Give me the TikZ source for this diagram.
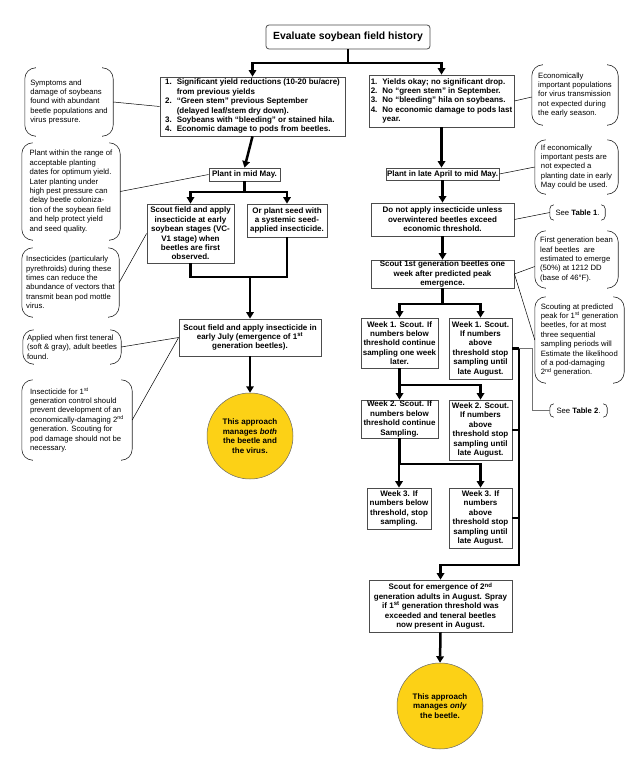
\documentclass[tikz,border=0pt]{standalone}
\usepackage{fontspec}
\setmainfont{Liberation Sans}
\usetikzlibrary{arrows.meta,calc}
\definecolor{gold}{RGB}{252,209,22}
\tikzset{
 box/.style={draw=black!70, line width=0.8pt, fill=white, font=\bfseries\fontsize{8}{9.4}\selectfont, align=center, inner xsep=1pt, inner ysep=0.5pt},
 note/.style={font=\fontsize{7.7}{9.4}\selectfont, align=left, inner xsep=4pt, inner ysep=0pt},
 brk/.style={line width=0.6pt, black!85, rounded corners=11pt},
 brks/.style={line width=0.6pt, black!85, rounded corners=4pt},
 conn/.style={line width=0.5pt, black},
 bus/.style={line width=2.5pt, black},
 arr/.style={bus, -{Triangle[width=7.5pt,length=6.5pt]}},
 goal/.style={circle, draw=black!60, line width=0.5pt, fill=gold, minimum size=86pt, align=center, font=\bfseries\fontsize{8}{9.6}\selectfont, inner sep=0pt},
}
\begin{document}
\begin{tikzpicture}[x=1pt,y=-1pt]
\useasboundingbox (0,0) rectangle (640,760);

% ---------- main boxes ----------
\node[box, rounded corners=3pt, font=\bfseries\fontsize{10.4}{12}\selectfont, minimum width=164, minimum height=24] (title) at (348,37) {Evaluate soybean field history};

\node[box, minimum width=185, minimum height=59] (L1) at (252.5,106.5) {\begin{tabular}{@{}l@{\hspace{5pt}}l@{}}
1. & Significant yield reductions (10-20 bu/acre)\\
   & from previous yields\\
2. & “Green stem” previous September\\
   & (delayed leaf/stem dry down).\\
3. & Soybeans with “bleeding” or stained hila.\\
4. & Economic damage to pods from beetles.
\end{tabular}};

\node[box, minimum width=145, minimum height=52] (R1) at (441.5,101) {\begin{tabular}{@{}l@{\hspace{5pt}}l@{}}
1. & Yields okay; no significant drop.\\
2. & No “green stem” in September.\\
3. & No “bleeding” hila on soybeans.\\
4. & No economic damage to pods last\\
   & year.
\end{tabular}};

\node[box, minimum width=71, minimum height=13] (pmay) at (244.5,174.5) {Plant in mid May.};
\node[box, minimum width=87, minimum height=59] (scoutE) at (190.5,233.5) {Scout field and apply\\insecticide at early\\soybean stages (VC-\\V1 stage) when\\beetles are first\\observed.};
\node[box, minimum width=80, minimum height=33] (orseed) at (287,220.5) {Or plant seed with\\a systemic seed-\\applied insecticide.};
\node[box, minimum width=142, minimum height=37] (july) at (250,337.5) {Scout field and apply insecticide in\\early July (emergence of 1\textsuperscript{st}\\generation beetles).};
\node[goal] (c1) at (250,436) {This approach\\manages \textit{both}\\the beetle and\\the virus.};

\node[box, minimum width=113, minimum height=12] (papril) at (442.5,174) {Plant in late April to mid May.};
\node[box, minimum width=143, minimum height=33] (donot) at (442.5,219.5) {Do not apply insecticide unless\\overwintered beetles exceed\\economic threshold.};
\node[box, minimum width=143, minimum height=28] (scout1) at (442.5,274) {Scout 1st generation beetles one\\week after predicted peak\\emergence.};
\node[box, minimum width=77, minimum height=50] (w1l) at (399.5,343) {Week 1. Scout. If\\numbers below\\threshold continue\\sampling one week\\later.};
\node[box, minimum width=63, minimum height=61] (w1r) at (480.5,348.5) {Week 1. Scout.\\If numbers\\above\\threshold stop\\sampling until\\late August.};
\node[box, minimum width=77, minimum height=38] (w2l) at (399.5,419) {Week 2. Scout. If\\numbers below\\threshold continue\\Sampling.};
\node[box, minimum width=63, minimum height=60] (w2r) at (480.5,430) {Week 2. Scout.\\If numbers\\above\\threshold stop\\sampling until\\late August.};
\node[box, minimum width=64, minimum height=41] (w3l) at (399,508.5) {Week 3. If\\numbers below\\threshold, stop\\sampling.};
\node[box, minimum width=63, minimum height=60] (w3r) at (480.5,518) {Week 3. If\\numbers\\above\\threshold stop\\sampling until\\late August.};
\node[box, minimum width=143, minimum height=52] (semerg) at (440.5,606) {Scout for emergence of 2\textsuperscript{nd}\\generation adults in August. Spray\\if 1\textsuperscript{st} generation threshold was\\exceeded and teneral beetles\\now present in August.};
\node[goal] (c2) at (440,706) {This approach\\manages \textit{only}\\the beetle.};

% ---------- notes ----------
\node[note, minimum width=88, minimum height=68] (nL1) at (69,102) {Symptoms and\\damage of soybeans\\found with abundant\\beetle populations and\\virus pressure.};
\node[note, minimum width=98, minimum height=97] (nL2) at (71,191.5) {Plant within the range of\\acceptable planting\\dates for optimum yield.\\Later planting under\\high pest pressure can\\delay beetle coloniza-\\tion of the soybean field\\and help protect yield\\and seed quality.};
\node[note, inner xsep=1pt, minimum width=97, minimum height=69] (nL3) at (70.5,282.5) {Insecticides (particularly\\pyrethroids) during these\\times can reduce the\\abundance of vectors that\\transmit bean pod mottle\\virus.};
\node[note, minimum width=98, minimum height=34] (nL4) at (72,347) {Applied when first teneral\\(soft \& gray), adult beetles\\found.};
\node[note, minimum width=110, minimum height=80] (nL5) at (77,420) {Insecticide for 1\textsuperscript{st}\\generation control should\\prevent development of an\\economically-damaging 2\textsuperscript{nd}\\generation. Scouting for\\pod damage should not be\\necessary.};
\node[note, minimum width=86, minimum height=60] (nR1) at (575,95) {Economically\\important populations\\for virus transmission\\not expected during\\the early season.};
\node[note, minimum width=83, minimum height=54] (nR2) at (576.5,167) {If economically\\important pests are\\not expected a\\planting date in early\\May could be used.};
\node[note, minimum width=83, minimum height=57] (nR3) at (576.5,259.5) {First generation bean\\leaf beetles\ \ are\\estimated to emerge\\(50\%) at 1212 DD\\(base of 46°F).};
\node[note, minimum width=89, minimum height=86] (nR4) at (579.5,340) {Scouting at predicted\\peak for 1\textsuperscript{st} generation\\beetles, for at most\\three sequential\\sampling periods will\\Estimate the likelihood\\of a pod-damaging\\2\textsuperscript{nd} generation.};
\node[note, minimum width=55, minimum height=15] (see1) at (577.5,212.5) {See \textbf{Table 1}.};
\node[note, minimum width=57, minimum height=13] (see2) at (578.5,410.5) {See \textbf{Table 2}.};

\foreach \n in {nL1,nL2,nL3,nL4,nL5,nR1,nR2,nR3,nR4} {
 \draw[brk] ([xshift=10pt]\n.north west) -- (\n.north west) -- (\n.south west) -- ([xshift=10pt]\n.south west);
 \draw[brk] ([xshift=-10pt]\n.north east) -- (\n.north east) -- (\n.south east) -- ([xshift=-10pt]\n.south east);
}
\foreach \n in {see1,see2} {
 \draw[brks] ([xshift=4pt]\n.north west) -- (\n.north west) -- (\n.south west) -- ([xshift=4pt]\n.south west);
 \draw[brks] ([xshift=-4pt]\n.north east) -- (\n.north east) -- (\n.south east) -- ([xshift=-4pt]\n.south east);
}

% ---------- thin connectors ----------
\draw[conn] (nL1.east) -- (L1.west);
\draw[conn] (nL2.east) -- (pmay.west);
\draw[conn] (nL3.east) -- (scoutE.west);
\draw[conn] (nL4.east) -- (july.west);
\draw[conn] (nL5.east) -- (july.west);
\draw[conn] (R1.east) -- ([yshift=-2pt]nR1.west);
\draw[conn] (papril.east) -- (nR2.west);
\draw[conn] (donot.east) -- (see1.west);
\draw[conn] (scout1.east) -- ([yshift=-7pt]nR3.west);
\draw[conn] (scout1.east) -- (nR4.west);

% ---------- thick flow ----------
\coordinate (j0) at (348,63);
\draw[bus] (title.south) -- (j0);
\draw[arr] (j0) -| (L1.north);
\draw[arr] (j0) -| (R1.north);
\draw[arr] (L1.south) -- (pmay.north);

\coordinate (j1) at (244.5,192);
\draw[bus] (pmay.south) -- (j1);
\draw[arr] (j1) -| (scoutE.north);
\draw[arr] (j1) -| (orseed.north);
\coordinate (j2) at (250,277);
\draw[bus] (scoutE.south) |- (j2) -| (orseed.south);
\draw[arr] (j2) -- (july.north);
\draw[arr] (july.south) -- (c1.north);

\draw[arr] (R1.south) -- (R1.south |- papril.north);
\draw[arr] (papril.south) -- (donot.north);
\draw[arr] (donot.south) -- (scout1.north);

\coordinate (j3) at (442.5,304);
\draw[bus] (scout1.south) -- (j3);
\draw[arr] (j3) -| (w1l.north);
\draw[arr] (j3) -| (w1r.north);
\coordinate (j4) at (399.5,385);
\draw[bus] (w1l.south) -- (j4);
\draw[arr] (j4) -- (w2l.north);
\draw[arr] (j4) -| (w2r.north);
\coordinate (j5) at (399.5,464);
\draw[bus] (w2l.south) -- (j5);
\draw[arr] (j5) -| (w3l.north);
\draw[arr] (j5) -| (w3r.north);

\coordinate (b1) at (519,348.5);
\coordinate (b4) at (519,565);
\draw[bus] (w1r.east) -- (b1);
\draw[bus] (w2r.east) -- (w2r.east -| b1);
\draw[bus] (w3r.east) -- (w3r.east -| b1);
\draw[arr] (b1) -- (b4) -| (semerg.north);
\draw[arr] (semerg.south) -- (c2.north);

\coordinate (t2) at (532,348.5);
\draw[conn, black!55] (b1) -- (t2) |- (see2.west);
\end{tikzpicture}
\end{document}
